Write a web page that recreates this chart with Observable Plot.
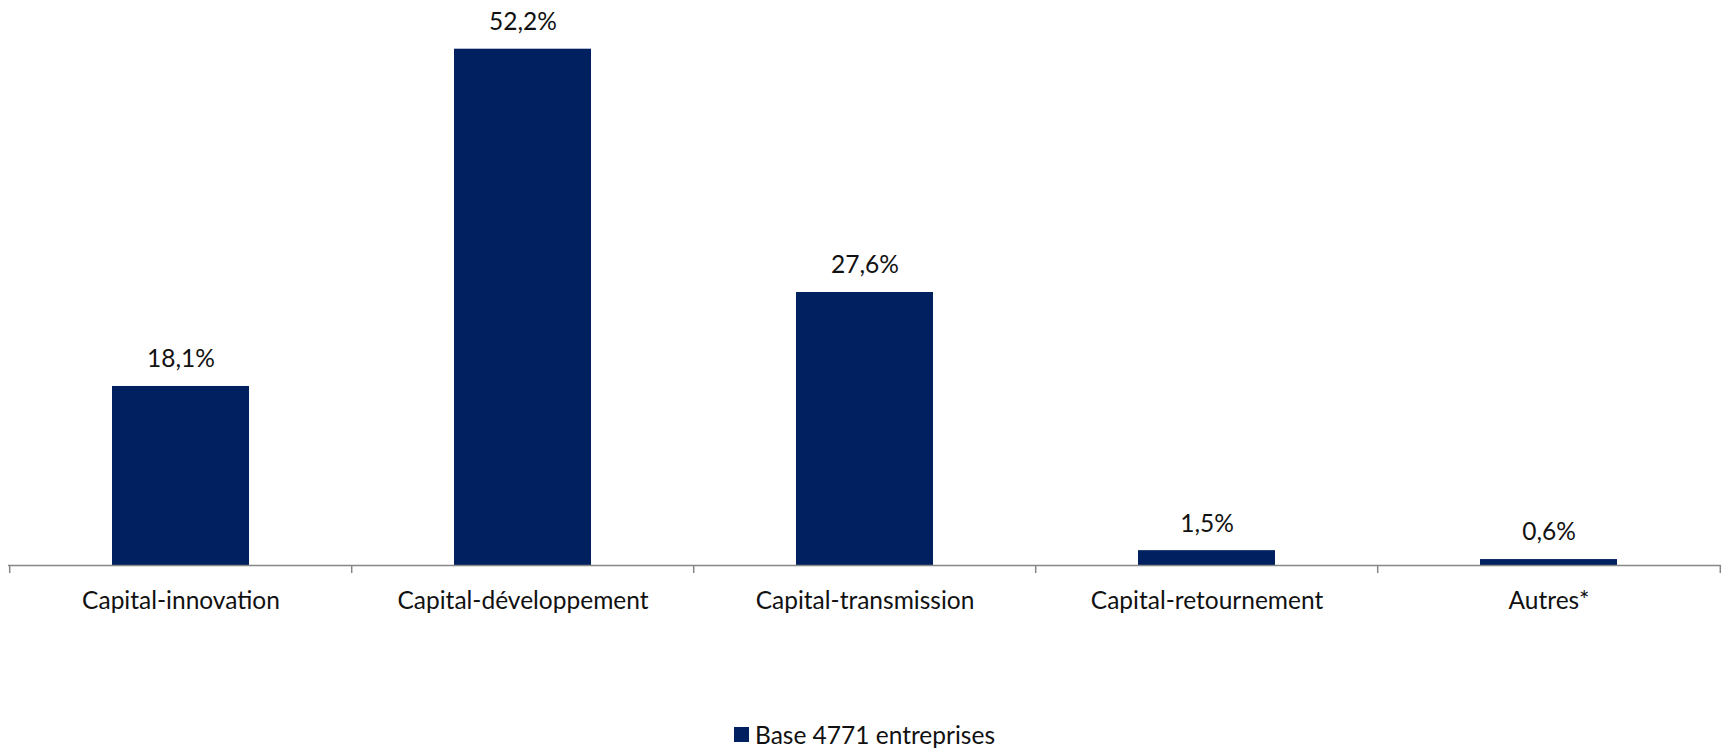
<!DOCTYPE html>
<html>
<head>
<meta charset="utf-8">
<script src="https://cdn.jsdelivr.net/npm/d3@7"></script>
<script src="https://cdn.jsdelivr.net/npm/@observablehq/plot@0.6"></script>
<style>
  html, body { margin: 0; padding: 0; background: #fff; }
  body { width: 1729px; height: 756px; overflow: hidden; font-family: Lato, "Open Sans", sans-serif; }
  #legend { display: flex; justify-content: center; align-items: center; margin-top: 20px; font-size: 24.5px; color: #111; }
  #legend .sw { width: 15px; height: 15px; background: #002060; margin-right: 6px; }
</style>
</head>
<body>
<div id="chart"></div>
<div id="legend"><span class="sw"></span><span id="legend-label"></span></div>
<script>
const categories = ["Capital-innovation", "Capital-développement", "Capital-transmission", "Capital-retournement", "Autres*"];
const values = [18.1, 52.2, 27.6, 1.5, 0.6];
const seriesName = "Base 4771 entreprises";
const barColor = "#002060";

const data = categories.map((c, i) => ({category: c, value: values[i]}));
const fmt = v => v.toFixed(1).replace(".", ",") + "%";

const W = 1729, H = 700, mL = 8, mR = 8;
const step = (W - mL - mR) / categories.length;
const edgeRight = categories.slice(-1);

const chart = Plot.plot({
  width: W,
  height: H,
  marginLeft: mL,
  marginRight: mR,
  marginTop: 21,
  marginBottom: 135,
  style: {fontFamily: "Lato, 'Open Sans', sans-serif", fontSize: "24.5px", color: "#111", background: "#fff"},
  x: {domain: categories, paddingInner: 0.6, paddingOuter: 0.3, label: null},
  y: {domain: [0, 55], axis: null},
  marks: [
    Plot.barY(data, {x: "category", y: "value", fill: barColor}),
    Plot.text(data, {x: "category", y: "value", text: d => fmt(d.value), dy: -27, fontSize: 24.5, fill: "#111"}),
    Plot.ruleY([0], {stroke: "#868686", strokeWidth: 1.5}),
    Plot.ruleX(categories, {x: d => d, y1: 0, y2: 0, dx: -step / 2, insetBottom: -8, stroke: "#868686", strokeWidth: 1.5}),
    Plot.ruleX(edgeRight, {x: d => d, y1: 0, y2: 0, dx: step / 2, insetBottom: -8, stroke: "#868686", strokeWidth: 1.5}),
    Plot.axisX({tickSize: 0, tickPadding: 26, fontSize: 24.5, label: null})
  ]
});
document.getElementById("chart").appendChild(chart);
document.getElementById("legend-label").textContent = seriesName;
</script>
</body>
</html>
